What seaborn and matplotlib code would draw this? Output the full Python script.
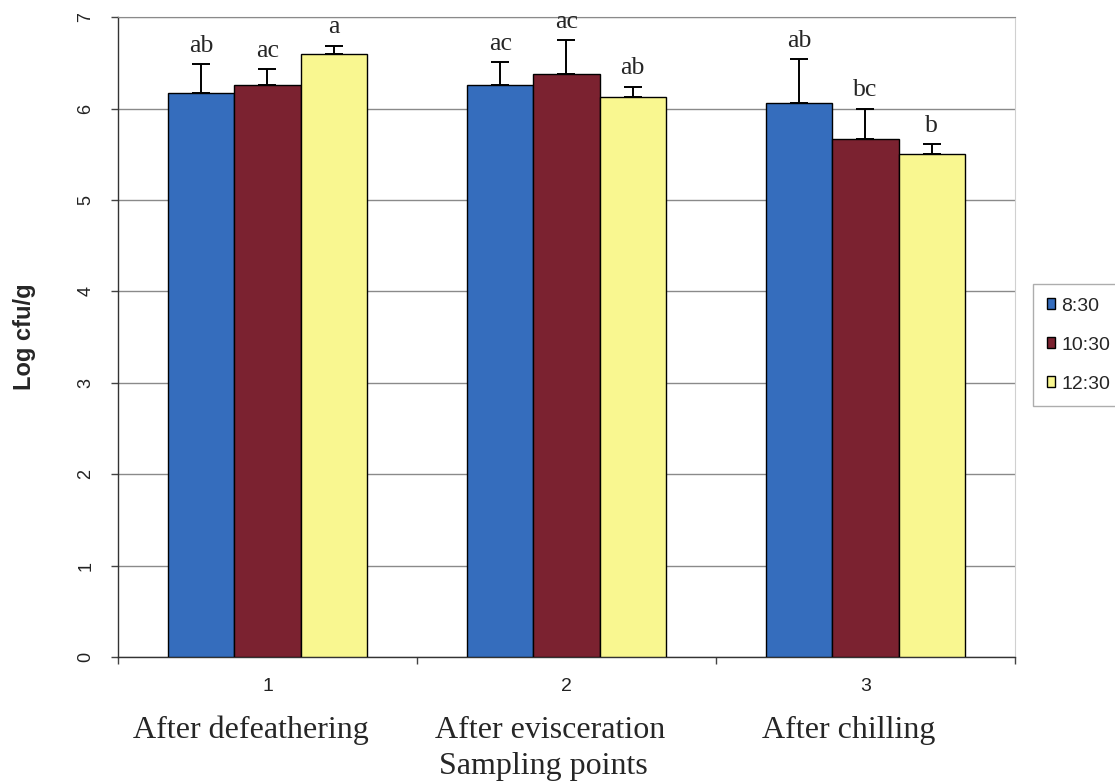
import matplotlib
matplotlib.use("Agg")
import matplotlib.pyplot as plt
import seaborn as sns
import pandas as pd
import numpy as np

points = ["1", "2", "3"]
point_names = ["After defeathering", "After evisceration", "After chilling"]
times = ["8:30", "10:30", "12:30"]
means_830 = [6.17, 6.26, 6.06]
means_1030 = [6.26, 6.38, 5.67]
means_1230 = [6.60, 6.13, 5.50]
err_830 = [0.32, 0.25, 0.48]
err_1030 = [0.17, 0.37, 0.33]
err_1230 = [0.09, 0.11, 0.11]
letters_830 = ["ab", "ac", "ab"]
letters_1030 = ["ac", "ac", "bc"]
letters_1230 = ["a", "ab", "b"]
colors = ["#356dbd", "#7b2230", "#f9f790"]

sns.set_style("white")
plt.rcParams["font.family"] = ["Liberation Sans", "DejaVu Sans"]

means = [means_830, means_1030, means_1230]
errs = [err_830, err_1030, err_1230]
letters = [letters_830, letters_1030, letters_1230]
rows = []
for t, m in zip(times, means):
    for p, v in zip(points, m):
        rows.append({"point": p, "time": t, "value": v})
df = pd.DataFrame(rows)

fig = plt.figure(figsize=(11.15, 7.83), dpi=100)
ax = fig.add_axes([0.1058, 0.161, 0.8045, 0.817])

sns.barplot(data=df, x="point", y="value", hue="time", order=points,
            hue_order=times, palette=colors, saturation=1, width=0.665, gap=0,
            edgecolor="black", linewidth=1.0, errorbar=None, ax=ax, zorder=3)

bar_containers = list(ax.containers)
for ci, cont in enumerate(bar_containers):
    for pi, patch in enumerate(cont.patches):
        xc = patch.get_x() + patch.get_width() / 2
        h = patch.get_height()
        e = errs[ci][pi]
        ax.errorbar([xc], [h], yerr=[[0], [e]], fmt="none", ecolor="black",
                    elinewidth=1.4, capsize=6.5, capthick=1.4, zorder=2)
        ax.text(xc, h + e + 0.08, letters[ci][pi], ha="center", va="bottom",
                fontsize=18.5, family="Liberation Serif", zorder=4)

ax.set_xlim(-0.5, 2.5)
ax.set_ylim(0, 7)
ax.set_yticks(range(0, 8))
ax.set_yticklabels([str(i) for i in range(0, 8)], rotation=90, va="center",
                   fontsize=13, color="#222222")
ax.yaxis.grid(True, color="#8a8a8a", linewidth=1.0)
ax.set_axisbelow(True)
ax.tick_params(axis="y", which="major", left=True, length=5, width=1,
               color="#444444", pad=12)

ax.set_xticks([0, 1, 2])
ax.set_xticklabels(points, fontsize=14, color="#222222")
ax.set_xticks([-0.5, 0.5, 1.5, 2.5], minor=True)
ax.tick_params(axis="x", which="major", length=0, pad=15)
ax.tick_params(axis="x", which="minor", bottom=True, length=5, width=1,
               color="#444444")

for i, name in enumerate(point_names):
    ax.text(i - 0.055, -0.886, name, ha="center", va="baseline", fontsize=23,
            family="Liberation Serif", clip_on=False)
ax.text(0.572, -1.285, "Sampling points", ha="left", va="baseline",
        fontsize=23, family="Liberation Serif", clip_on=False)

ax.set_xlabel("")
ax.set_ylabel("Log cfu/g", fontsize=17, fontweight="bold", labelpad=30)

for s in ["left", "bottom"]:
    ax.spines[s].set_color("#333333")
    ax.spines[s].set_linewidth(1.0)
ax.spines["top"].set_color("#8a8a8a")
ax.spines["right"].set_color("#d0d0d0")

leg = ax.legend(title=None, loc="upper left", bbox_to_anchor=(1.02, 0.583),
                fontsize=14, frameon=True, fancybox=False, edgecolor="#999999",
                handlelength=0.45, handleheight=0.45, handletextpad=0.3,
                labelspacing=1.13, borderpad=0.7, borderaxespad=0)
for h in leg.legend_handles:
    h.set_edgecolor("black")
    h.set_linewidth(1.0)

fig.savefig("out.png", dpi=100)
